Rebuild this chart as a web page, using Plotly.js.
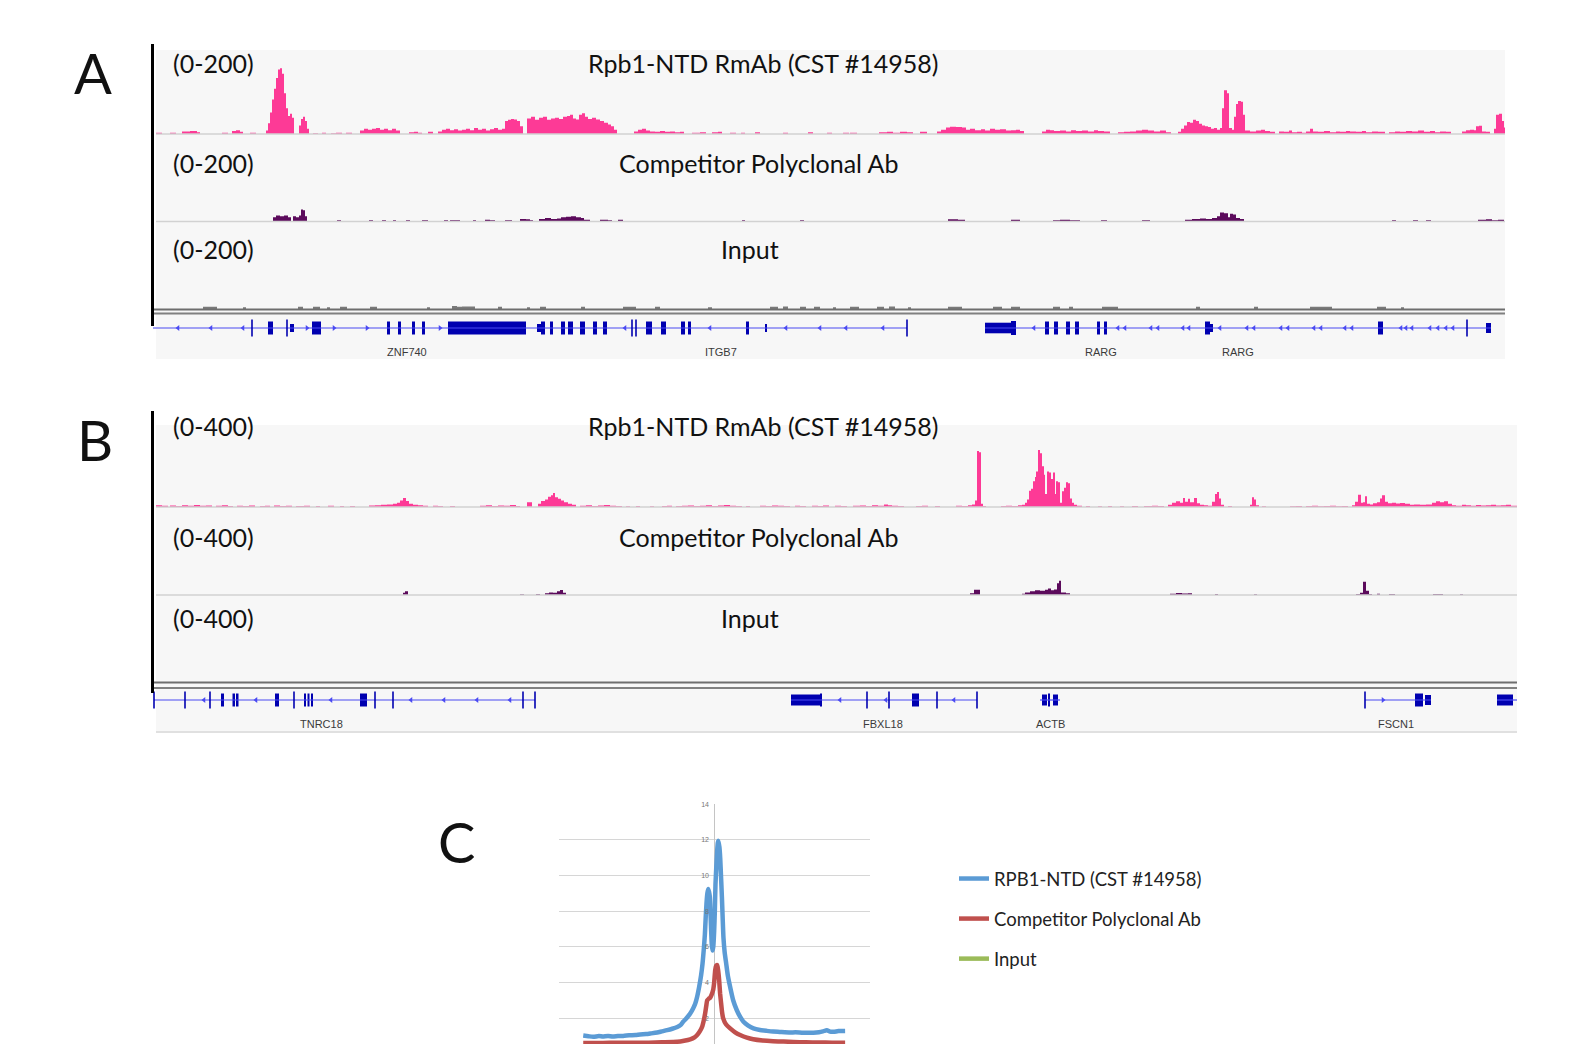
<!DOCTYPE html>
<html><head><meta charset="utf-8">
<script src="https://cdn.plot.ly/plotly-3.0.1.min.js"></script>
<style>html,body{margin:0;padding:0;background:#fff;}#chart{width:1575px;height:1044px;}</style>
</head><body><div id="chart"></div>
<script>
// ================= DATA =================
// Panel A – locus 1 (x = position along the browser window, y = signal, range 0-200)
const rpbA=[[156,3],[162,0],[170,3],[176,0],[182,6],[190,7],[197,4],[200,0],[222,3],[228,0],[232,7],[236,9],[240,5],[243,0],[250,3],[256,0],
[266,8],[268,25],[270,50],[272,80],[274,105],[276,130],[278,150],[280,153],[282,140],[284,95],[286,60],[288,42],[290,47],[292,38],[294,0],
[299,20],[301,35],[303,40],[305,30],[307,12],[309,0],[313,2],[318,0],[322,3],[326,0],[331,2],[336,3],[342,0],[346,3],[352,0],
[360,8],[364,12],[368,10],[372,12],[376,14],[380,10],[384,12],[388,9],[392,12],[396,8],[400,0],[409,4],[414,5],[418,3],[422,0],[428,5],[433,0],
[438,6],[442,10],[446,12],[450,9],[454,11],[458,8],[462,10],[466,12],[470,9],[474,14],[478,10],[482,12],[486,8],[490,11],[494,14],[498,10],[502,12],
[505,30],[508,33],[511,35],[514,34],[517,30],[520,18],[523,0],
[527,36],[531,40],[535,33],[539,38],[543,40],[547,33],[551,36],[555,38],[559,35],[563,40],[567,42],[570,45],[573,36],[576,34],[579,45],[582,48],[585,40],[588,35],[592,38],[596,34],[600,30],[604,26],[608,22],[611,18],[614,10],[617,0],
[634,6],[638,10],[642,12],[646,8],[650,6],[655,5],[660,7],[665,5],[670,6],[675,4],[680,5],[684,0],
[692,3],[700,4],[706,0],[712,4],[718,5],[722,0],[730,3],[736,0],[741,3],[745,0],[755,4],[760,0],[783,3],[788,0],[808,4],[813,0],[827,3],[832,0],[843,3],[849,0],
[850,3],[857,0],[879,4],[887,5],[893,3],[900,5],[907,4],[913,0],[920,5],[927,0],
[937,6],[941,10],[946,15],[950,17],[956,16],[962,15],[966,10],[970,12],[975,9],[981,11],[985,8],[990,12],[995,10],[1000,11],[1006,8],[1011,9],[1016,10],[1020,7],[1024,0],
[1042,6],[1046,10],[1050,9],[1054,7],[1060,8],[1066,6],[1071,9],[1076,7],[1082,8],[1088,6],[1094,9],[1098,7],[1104,6],[1110,0],
[1118,4],[1124,5],[1130,6],[1136,8],[1142,10],[1148,8],[1154,6],[1160,8],[1166,4],[1171,0],
[1178,5],[1181,12],[1184,20],[1187,28],[1190,26],[1193,33],[1196,30],[1199,24],[1202,20],[1205,18],[1208,16],[1211,12],[1214,14],[1217,10],[1220,14],
[1222,60],[1224,102],[1227,95],[1229,14],[1232,10],[1234,40],[1236,70],[1238,77],[1241,75],[1243,45],[1245,8],[1250,6],[1256,8],[1261,10],[1265,7],[1270,5],[1275,0],
[1279,6],[1284,5],[1289,8],[1292,4],[1297,5],[1302,3],[1306,6],[1310,12],[1313,6],[1318,5],[1324,7],[1330,4],[1336,6],[1340,5],[1346,7],[1350,6],[1356,5],[1362,7],[1366,4],[1372,6],[1378,5],[1385,0],
[1389,4],[1395,6],[1400,5],[1406,7],[1412,6],[1418,8],[1424,5],[1430,7],[1435,4],[1440,6],[1446,5],[1451,0],
[1462,6],[1466,9],[1470,10],[1474,9],[1476,18],[1479,19],[1482,6],[1486,5],[1490,0],[1494,12],[1496,45],[1499,47],[1502,30],[1504,15],[1505,0]];

const compA=[[273,10],[276,14],[280,12],[284,14],[288,10],[291,0],[293,12],[296,10],[299,14],[301,28],[303,26],[305,12],[307,0],
[337,3],[341,0],[369,3],[373,0],[382,3],[386,0],[393,3],[396,0],[406,3],[410,0],[422,3],[428,0],[444,3],[448,0],[450,3],[460,0],[473,3],[476,0],[485,4],[490,3],[495,0],[505,3],[512,0],[520,6],[526,5],[530,3],[533,0],
[539,6],[545,8],[551,6],[557,7],[561,10],[566,11],[571,12],[576,10],[581,8],[584,4],[590,0],[600,4],[608,3],[612,0],[618,4],[623,0],[742,3],[745,0],[800,3],[804,0],
[948,5],[958,4],[965,0],[1011,4],[1020,0],[1053,3],[1060,4],[1070,3],[1080,0],[1101,3],[1107,0],[1142,3],[1150,0],
[1185,4],[1192,6],[1200,7],[1206,6],[1212,8],[1217,12],[1220,21],[1224,19],[1228,10],[1230,18],[1233,16],[1236,8],[1240,6],[1244,0],
[1392,3],[1396,0],[1413,3],[1418,0],[1426,3],[1431,0],[1478,4],[1486,5],[1492,3],[1498,4],[1504,0]];

const inputA=[[203,5],[217,0],[243,4],[246,0],[298,5],[303,0],[313,5],[320,0],[327,4],[330,0],[340,5],[347,0],[370,5],[377,0],[427,4],[430,0],[452,7],[457,5],[462,6],[475,0],[498,5],[502,0],[527,4],[530,0],[540,5],[546,0],[581,5],[585,0],[623,5],[636,0],[655,5],[660,0],[708,4],[712,0],[770,5],[778,0],[783,6],[788,0],[800,5],[806,0],[814,5],[820,0],[833,4],[836,0],[850,5],[859,0],[877,5],[884,0],[889,6],[895,0],[908,4],[911,0],[948,5],[962,0],[993,5],[1002,0],[1011,5],[1020,0],[1053,5],[1060,0],[1069,5],[1073,0],[1102,5],[1118,0],[1196,5],[1200,0],[1254,5],[1258,0],[1310,5],[1332,0],[1377,5],[1386,0],[1401,4],[1404,0]];

// Panel A gene annotation
const geneLinesA=[[153,907],[985,1491]];
const exonsA=[[268,273,6.5],[290,294,4],[312,321,6.5],[387,390,6.5],[398,401,6.5],[412,415,6.5],[422,425,6.5],[448,526,6.5],[537,541,4],[541,545,6.5],[550,553,6.5],[561,565,6.5],[568,573,6.5],[580,585,6.5],[593,597,6.5],[603,607,6.5],[646,652,6.5],[661,666,6.5],[681,685,6.5],[688,691,6.5],[746,749,6.5],[765,767,4],
[985,1011,5.3],[1011,1016,7],[1045,1049,6.5],[1054,1058,6.5],[1066,1070,6.5],[1075,1079,6.5],[1097,1100,6.5],[1104,1107,6.5],[1205,1210,6.5],[1210,1213,4],[1378,1383,6.5],[1486,1491,5]];
const ticksA=[252,287,632,636,907,1467];
const arrowsLeftA=[178,211,243,625,710,786,820,846,883,1034,1118,1125,1151,1158,1183,1189,1220,1247,1254,1281,1288,1314,1321,1345,1352,1401,1406,1412,1430,1438,1446,1453];
const arrowsRightA=[307,334,367,440];
const geneNamesA=['ZNF740','ITGB7','RARG','RARG'];
const geneNamePosA=[407,721,1101,1238];

// Panel B – locus 2 (range 0-400)
const rpbB=[[156,8],[162,6],[168,0],[170,7],[176,5],[182,8],[188,6],[194,9],[200,6],[206,7],[212,0],[216,6],[222,8],[228,5],[233,0],[237,6],[243,5],[249,7],[255,0],[260,5],[265,6],[270,0],[274,7],[280,5],[286,6],[292,0],[296,5],[304,6],[310,0],[316,5],[320,0],[328,6],[334,0],[340,5],[344,0],[350,5],[355,0],
[369,7],[375,8],[381,10],[387,12],[393,15],[397,20],[400,30],[403,42],[406,28],[409,15],[413,10],[418,8],[423,6],[428,0],[433,6],[438,5],[443,0],[450,5],[455,0],
[480,6],[486,8],[492,5],[498,7],[504,6],[510,9],[516,5],[520,0],[527,22],[532,0],[538,15],[541,28],[545,35],[548,48],[551,55],[553,65],[555,45],[558,38],[561,30],[564,22],[568,15],[572,10],[576,0],
[580,6],[586,8],[592,5],[598,7],[604,9],[610,6],[616,5],[622,0],[626,4],[630,0],[636,5],[640,0],[650,4],[654,0],[662,5],[667,6],[672,0],[676,5],[682,6],[688,7],[694,5],[700,6],[706,8],[712,5],[718,7],[724,9],[730,6],[736,5],[742,0],[746,5],[750,0],
[760,6],[766,5],[772,7],[778,6],[784,5],[790,0],[795,6],[800,5],[806,0],[812,6],[818,5],[823,7],[829,0],[835,6],[841,5],[847,0],[853,6],[860,7],[866,5],[872,8],[878,6],[884,12],[888,8],[892,6],[898,5],[904,0],[916,5],[922,6],[928,0],[935,5],[940,0],
[956,6],[962,5],[968,8],[972,12],[975,30],[977,260],[979,255],[981,15],[983,5],[986,0],
[1001,5],[1006,6],[1012,5],[1018,8],[1022,10],[1025,20],[1027,35],[1029,76],[1031,85],[1033,120],[1035,140],[1036,165],[1038,265],[1040,250],[1042,190],[1044,150],[1045,60],[1047,165],[1049,160],[1051,130],[1053,160],[1055,60],[1056,120],[1058,115],[1060,20],[1062,73],[1064,90],[1066,115],[1068,110],[1070,40],[1072,20],[1074,10],[1077,6],[1082,0],
[1086,5],[1090,0],[1098,4],[1102,0],[1108,5],[1112,0],[1120,4],[1124,0],[1132,5],[1138,0],[1144,5],[1152,6],[1158,5],[1164,0],
[1168,10],[1172,20],[1176,27],[1180,20],[1183,42],[1185,25],[1188,38],[1190,22],[1194,42],[1197,18],[1200,10],[1204,8],[1208,6],[1212,25],[1215,60],[1217,70],[1219,40],[1221,10],[1224,0],[1228,5],[1232,0],[1250,10],[1252,45],[1254,35],[1256,8],[1259,0],[1262,4],[1266,0],
[1290,4],[1296,5],[1302,0],[1306,5],[1312,6],[1318,4],[1324,5],[1330,6],[1336,4],[1342,5],[1348,0],
[1352,8],[1355,25],[1358,57],[1361,20],[1363,22],[1365,50],[1367,15],[1370,12],[1373,18],[1377,22],[1380,40],[1382,55],[1385,25],[1388,18],[1392,20],[1396,16],[1400,19],[1405,15],[1410,10],[1414,12],[1420,10],[1426,12],[1432,20],[1436,27],[1440,22],[1444,27],[1448,15],[1452,8],[1456,6],[1462,10],[1466,8],[1471,6],[1476,9],[1481,7],[1486,8],[1491,10],[1496,7],[1501,8],[1506,10],[1511,6],[1517,0]];

const compB=[[403,10],[405,18],[408,0],[520,4],[524,0],[536,5],[540,0],[545,8],[549,12],[553,10],[557,18],[560,23],[563,10],[566,0],
[970,8],[974,25],[980,0],[1022,6],[1025,12],[1030,18],[1035,22],[1040,20],[1045,24],[1048,30],[1051,22],[1054,26],[1057,55],[1059,66],[1061,12],[1066,8],[1070,0],
[1170,6],[1176,9],[1182,7],[1188,8],[1192,0],[1215,5],[1218,0],[1254,4],[1257,0],
[1356,5],[1360,10],[1363,62],[1366,20],[1369,5],[1372,0],[1377,6],[1380,0],[1389,5],[1395,0],[1433,5],[1443,0],[1460,4],[1463,0]];

const inputB=[[156,0],[1517,0]];

const geneLinesB=[[154,535],[791,977],[1040,1060],[1365,1431],[1497,1517]];
const exonsB=[[221,224,6.5],[232.5,235,6.5],[236,238.5,6.5],[275,279,6.5],[304,306,6.5],[307.5,309.5,6.5],[311,313,6.5],[360,367,6.5],[791,820,5.5],[820,822,6.5],[912,919,6.5],[1042,1047,5.5],[1048,1050,6.5],[1053,1058,5.5],[1415,1423,6.5],[1425,1431,5],[1497,1513,5.5]];
const ticksB=[154,185,210,294,375,393,523,535,867,889,937,977,1365];
const arrowsLeftB=[204,256,331,411,444,477,510,840,886,954];
const arrowsRightB=[1383];
const geneNamesB=['TNRC18','FBXL18','ACTB','FSCN1'];
const geneNamePosB=[321,883,1050,1396];

// Panel C – average profile around TSS (bp, signal)
const rpbC_x=[-1000,-960,-924,-880,-850,-810,-775,-735,-695,-650,-600,-565,-520,-480,-435,-400,-359,-320,-282,-255,-237,-210,-183,-160,-145,-130,-115,-100,-89,-80,-71,-65,-59,-52,-46,-40,-33,-28,-23,-18,-13,-7,0,5,10,17,23,28,33,40,46,52,59,65,71,80,92,105,122,145,173,200,224,260,300,350,402,450,500,580,620,670,720,758,800,830,860,885,911,950,1000];
const rpbC_y=[1.02,0.98,0.95,0.99,0.97,1.0,0.96,0.99,1.0,1.03,1.05,1.08,1.1,1.14,1.19,1.25,1.32,1.4,1.5,1.62,1.79,2.0,2.25,2.55,2.8,3.2,3.74,4.4,5.05,5.8,6.7,7.6,8.4,9.0,9.25,9.1,8.8,7.9,6.9,6.1,5.8,6.0,6.9,8.0,9.5,10.6,11.4,11.85,11.95,11.6,11.0,10.0,8.8,7.6,6.5,5.7,5.05,4.35,3.74,3.0,2.44,2.05,1.79,1.58,1.42,1.33,1.28,1.24,1.22,1.19,1.2,1.18,1.17,1.17,1.2,1.25,1.32,1.24,1.23,1.27,1.28];
const compC_x=[-1000,-900,-800,-700,-600,-500,-400,-282,-230,-183,-150,-130,-110,-92,-80,-69,-60,-53,-42,-31,-20,-8,0,8,15,23,30,38,45,53,60,69,90,122,160,198,250,298,370,450,530,603,700,800,900,1000];
const compC_y=[0.6,0.6,0.61,0.61,0.62,0.62,0.64,0.67,0.73,0.81,0.92,1.05,1.25,1.51,1.85,2.26,2.7,3.0,3.08,3.14,3.3,3.57,4.0,4.69,4.93,4.97,4.7,4.13,3.4,2.83,2.35,1.98,1.65,1.42,1.2,1.05,0.9,0.81,0.74,0.7,0.68,0.66,0.64,0.63,0.62,0.62];
const inputC_x=[-1000,-500,0,500,1000];
const inputC_y=[0.25,0.25,0.3,0.25,0.25];
const seriesNamesC=['RPB1-NTD (CST #14958)','Competitor Polyclonal Ab','Input'];

const trackTitles=['Rpb1-NTD RmAb (CST #14958)','Competitor Polyclonal Ab','Input'];
const rangeLabelsA=['(0-200)','(0-200)','(0-200)'];
const rangeLabelsB=['(0-400)','(0-400)','(0-400)'];
const panelLetters=['A','B','C'];

// ================= LAYOUT HELPERS =================
const W=1575,H=1044;
const fx=v=>v/W, fy=v=>1-v/H;
const PINK='#fd3a96', PURPLE='#5c0b5c', GRAY='#7a7a7a', EXON='#0000b0', INTRON='#4a4af2';
const FONT='Lato, "Open Sans", sans-serif';

function stepTrace(pairs,color,xa,ya){
  return {type:'scatter',mode:'lines',x:pairs.map(p=>p[0]),y:pairs.map(p=>p[1]),
    line:{shape:'hv',width:0,color:color},fill:'tozeroy',fillcolor:color,
    xaxis:xa,yaxis:ya,showlegend:false,hoverinfo:'skip'};
}
function geneTraces(lines,exons,ticks,aL,aR,xa,ya){
  const t=[];
  t.push({type:'scatter',mode:'lines',x:lines.flatMap(l=>[l[0],l[1],null]),y:lines.flatMap(()=>[0,0,null]),
    line:{color:INTRON,width:1.2},xaxis:xa,yaxis:ya,showlegend:false,hoverinfo:'skip'});
  t.push({type:'bar',x:exons.map(e=>(e[0]+e[1])/2),width:exons.map(e=>e[1]-e[0]),base:exons.map(e=>-e[2]),y:exons.map(e=>2*e[2]),
    marker:{color:EXON,line:{width:0}},xaxis:xa,yaxis:ya,showlegend:false,hoverinfo:'skip'});
  t.push({type:'scatter',mode:'markers',x:ticks,y:ticks.map(()=>0),marker:{symbol:'line-ns',size:12,line:{width:1.6,color:EXON}},
    xaxis:xa,yaxis:ya,showlegend:false,hoverinfo:'skip'});
  t.push({type:'scatter',mode:'markers',x:aL,y:aL.map(()=>0),marker:{symbol:'triangle-left',size:5,color:INTRON},
    xaxis:xa,yaxis:ya,showlegend:false,hoverinfo:'skip'});
  t.push({type:'scatter',mode:'markers',x:aR,y:aR.map(()=>0),marker:{symbol:'triangle-right',size:5,color:INTRON},
    xaxis:xa,yaxis:ya,showlegend:false,hoverinfo:'skip'});
  return t;
}

const data=[
  stepTrace(rpbA,PINK,'x','y'),
  stepTrace(compA,PURPLE,'x','y2'),
  stepTrace(inputA,GRAY,'x','y3'),
  ...geneTraces(geneLinesA,exonsA,ticksA,arrowsLeftA,arrowsRightA,'x','y4'),
  stepTrace(rpbB,PINK,'x2','y5'),
  stepTrace(compB,PURPLE,'x2','y6'),
  stepTrace(inputB,GRAY,'x2','y7'),
  ...geneTraces(geneLinesB,exonsB,ticksB,arrowsLeftB,arrowsRightB,'x2','y8'),
  {type:'scatter',mode:'lines',x:rpbC_x,y:rpbC_y,name:seriesNamesC[0],legendgroup:'a',line:{color:'#5b9bd5',width:4.5,shape:'spline',smoothing:0.6},xaxis:'x3',yaxis:'y9'},
  {type:'scatter',mode:'lines',x:compC_x,y:compC_y,name:seriesNamesC[1],legendgroup:'b',line:{color:'#c0504d',width:4.5,shape:'spline',smoothing:0.6},xaxis:'x3',yaxis:'y9'},
  {type:'scatter',mode:'lines',x:inputC_x,y:inputC_y,name:seriesNamesC[2],legendgroup:'c',line:{color:'#9bbb59',width:4.5},xaxis:'x3',yaxis:'y9'}
];

const hiddenX=(dom,rng,anchor)=>({domain:dom,range:rng,anchor:anchor,showgrid:false,zeroline:false,showline:false,showticklabels:false,ticks:'',fixedrange:true});
const trackY=(top,bottom,max)=>({domain:[fy(bottom),fy(top)],range:[0,max],showgrid:false,zeroline:false,showline:false,showticklabels:false,ticks:'',fixedrange:true});
const geneY=(c)=>({domain:[fy(c+10),fy(c-10)],range:[-10,10],showgrid:false,zeroline:false,showline:false,showticklabels:false,ticks:'',fixedrange:true});

const xA=[153,1505], xB=[153,1517];
const layout={
  width:W,height:H,margin:{l:0,r:0,t:0,b:0},paper_bgcolor:'#ffffff',plot_bgcolor:'rgba(0,0,0,0)',
  font:{family:FONT,color:'#111'},
  xaxis:hiddenX([fx(xA[0]),fx(xA[1])],xA,'y'),
  xaxis2:hiddenX([fx(xB[0]),fx(xB[1])],xB,'y5'),
  xaxis3:{domain:[fx(559),fx(870)],range:[-1185,1190],anchor:'y9',showgrid:false,showline:false,showticklabels:false,ticks:'',
    zeroline:true,zerolinecolor:'#c4c4c4',zerolinewidth:1,fixedrange:true},
  yaxis:Object.assign(trackY(48,134,200),{anchor:'x'}),
  yaxis2:Object.assign(trackY(135.5,221.5,200),{anchor:'x'}),
  yaxis3:Object.assign(trackY(223,309,200),{anchor:'x'}),
  yaxis4:Object.assign(geneY(328),{anchor:'x'}),
  yaxis5:Object.assign(trackY(421,507,400),{anchor:'x2'}),
  yaxis6:Object.assign(trackY(509,595,400),{anchor:'x2'}),
  yaxis7:Object.assign(trackY(596.5,682.5,400),{anchor:'x2'}),
  yaxis8:Object.assign(geneY(700),{anchor:'x2'}),
  yaxis9:{domain:[0,fy(804)],range:[(1053.7-1044)/17.83,14.02],anchor:'free',position:fx(714),
    showgrid:true,gridcolor:'#d6d6d6',gridwidth:1,dtick:2,tick0:0,zeroline:false,showline:false,ticks:'',
    tickfont:{size:7,color:'#777',family:'"Liberation Sans", Arial, sans-serif'},ticklabelstandoff:5,fixedrange:true},
  showlegend:true,
  legend:{x:fx(954),y:fy(860),xanchor:'left',yanchor:'top',bgcolor:'rgba(0,0,0,0)',borderwidth:0,
    font:{family:FONT,size:18.5,color:'#222'},tracegroupgap:13,itemwidth:30,traceorder:'grouped'},
  shapes:[
    {type:'rect',xref:'paper',yref:'paper',x0:fx(156),x1:fx(1505),y0:fy(359),y1:fy(50),fillcolor:'#f7f7f7',line:{width:0},layer:'below'},
    {type:'rect',xref:'paper',yref:'paper',x0:fx(156),x1:fx(1517),y0:fy(733),y1:fy(425),fillcolor:'#f7f7f7',line:{width:0},layer:'below'},
    {type:'line',xref:'paper',yref:'paper',x0:fx(156),x1:fx(1505),y0:fy(134),y1:fy(134),line:{color:'#d2d2d2',width:1.5}},
    {type:'line',xref:'paper',yref:'paper',x0:fx(156),x1:fx(1505),y0:fy(221.5),y1:fy(221.5),line:{color:'#d2d2d2',width:1.5}},
    {type:'line',xref:'paper',yref:'paper',x0:fx(156),x1:fx(1517),y0:fy(507),y1:fy(507),line:{color:'#d2d2d2',width:1.5}},
    {type:'line',xref:'paper',yref:'paper',x0:fx(156),x1:fx(1517),y0:fy(595),y1:fy(595),line:{color:'#d2d2d2',width:1.5}},
    {type:'line',xref:'paper',yref:'paper',x0:fx(153),x1:fx(1505),y0:fy(309.5),y1:fy(309.5),line:{color:'#6e6e6e',width:2}},
    {type:'line',xref:'paper',yref:'paper',x0:fx(153),x1:fx(1505),y0:fy(313.5),y1:fy(313.5),line:{color:'#808080',width:2}},
    {type:'line',xref:'paper',yref:'paper',x0:fx(153),x1:fx(1517),y0:fy(682.5),y1:fy(682.5),line:{color:'#6e6e6e',width:2}},
    {type:'line',xref:'paper',yref:'paper',x0:fx(153),x1:fx(1517),y0:fy(688),y1:fy(688),line:{color:'#808080',width:2}},
    {type:'line',xref:'paper',yref:'paper',x0:fx(156),x1:fx(1517),y0:fy(732),y1:fy(732),line:{color:'#d8d8d8',width:1.5}},
    {type:'line',xref:'paper',yref:'paper',x0:fx(152.5),x1:fx(152.5),y0:fy(326),y1:fy(44),line:{color:'#000',width:3}},
    {type:'line',xref:'paper',yref:'paper',x0:fx(152.5),x1:fx(152.5),y0:fy(693),y1:fy(411),line:{color:'#000',width:3}}
  ],
  annotations:[]
};

const ann=layout.annotations;
const A=(text,x,y,size,anchor)=>ann.push({text:text,xref:'paper',yref:'paper',x:fx(x),y:fy(y),xanchor:anchor||'center',yanchor:'middle',
  showarrow:false,font:{family:FONT,size:size,color:'#111'}});
const rowYA=[62.5,163,249], rowYB=[426,537,618], titleX=[763,758,750];
rangeLabelsA.forEach((t,i)=>A(t,171,rowYA[i],25,'left'));
rangeLabelsB.forEach((t,i)=>A(t,171,rowYB[i],25,'left'));
trackTitles.forEach((t,i)=>{A(t,titleX[i],rowYA[i],25);A(t,titleX[i],rowYB[i],25);});
A(panelLetters[0],92.5,72.5,56);
A(panelLetters[1],95,439,56);
A(panelLetters[2],456,841,56);
// gene names, placed at their locus positions on the browser x axes
const geneLabel=(names,pos,xa,yPx)=>names.forEach((n,i)=>ann.push({text:n,xref:xa,yref:'paper',x:pos[i],y:fy(yPx),xanchor:'center',yanchor:'middle',
  showarrow:false,font:{family:'"Liberation Sans", Arial, sans-serif',size:11,color:'#3a3a3a'}}));
geneLabel(geneNamesA,geneNamePosA,'x',351.5);
geneLabel(geneNamesB,geneNamePosB,'x2',724);

Plotly.newPlot('chart',data,layout,{staticPlot:true,displayModeBar:false});
</script></body></html>
